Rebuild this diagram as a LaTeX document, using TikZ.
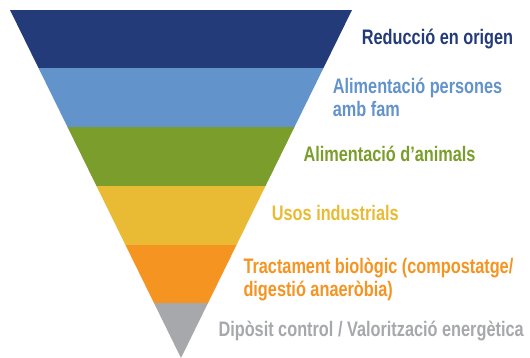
\documentclass[tikz,border=0pt]{standalone}
\usepackage{fontspec}
\setmainfont{Liberation Sans}
\definecolor{cDark}{HTML}{243B7A}
\definecolor{cLight}{HTML}{6393CB}
\definecolor{cGreen}{HTML}{7A9D2B}
\definecolor{cYellow}{HTML}{E9BB35}
\definecolor{cOrange}{HTML}{F59421}
\definecolor{cGray}{HTML}{A7A8AB}
\newcommand{\cond}[1]{\scalebox{0.776}[1]{#1}}
\begin{document}
\begin{tikzpicture}[x=1pt,y=-1pt,
  lbl/.style={anchor=base west,inner sep=0pt,font=\fontsize{21}{24}\selectfont\bfseries}]
\useasboundingbox (0,0) rectangle (530,358);
\begin{scope}
  \clip (10,10) -- (352,10) -- (181,358) -- cycle;
  \fill[cDark]   (0,10)    rectangle (360,68);
  \fill[cLight]  (0,68)    rectangle (360,127);
  \fill[cGreen]  (0,127)   rectangle (360,186);
  \fill[cYellow] (0,186)   rectangle (360,244.7);
  \fill[cOrange] (0,244.7) rectangle (360,303);
  \fill[cGray]   (0,303)   rectangle (360,360);
\end{scope}
\node[lbl,text=cDark]   (t1)  at (361.7,45)   {\cond{Reducció en origen}};
\node[lbl,text=cLight]  (t2a) at (332.7,94)   {\cond{Alimentació persones}};
\node[lbl,text=cLight]  (t2b) at (332.7,116.7){\cond{amb fam}};
\node[lbl,text=cGreen]  (t3)  at (303.3,161.7){\cond{Alimentació d’animals}};
\node[lbl,text=cYellow] (t4)  at (271.7,221)  {\cond{Usos industrials}};
\node[lbl,text=cOrange] (t5a) at (243.3,273.3){\cond{Tractament biològic (compostatge/}};
\node[lbl,text=cOrange] (t5b) at (243.3,296.7){\cond{digestió anaeròbia)}};
\node[lbl,text=cGray]   (t6)  at (218.3,336.7){\cond{Dipòsit control / Valorització energètica}};
\end{tikzpicture}
\end{document}
